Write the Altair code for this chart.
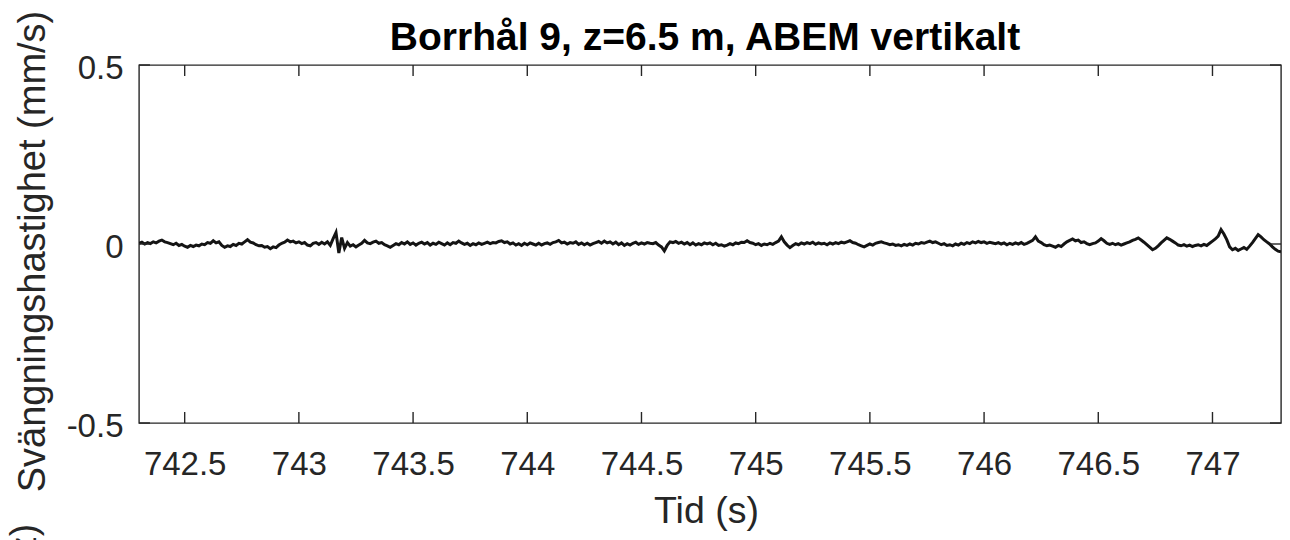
import altair as alt
import pandas as pd

# ---- data -------------------------------------------------------------
t_start = 742.3
t_step = 0.0125
velocity = [
    0.002, 0.005, 0.000, 0.004, 0.001, 0.006, 0.003, 0.008, 0.011, 0.006, 0.004, 0.001, -0.002, 0.002, -0.004, -0.001, -0.006, -0.009, -0.004, -0.007,
    -0.003, -0.005, 0.000, -0.002, 0.004, 0.002, 0.009, 0.003, 0.006, -0.004, -0.009, -0.005, -0.007, -0.001, -0.004, 0.002, 0.000, 0.006, 0.012, 0.005,
    0.003, -0.002, -0.005, -0.004, -0.009, -0.007, -0.013, -0.008, -0.010, -0.003, 0.002, 0.005, 0.011, 0.006, 0.008, 0.003, 0.006, 0.001, 0.004, -0.003,
    -0.005, 0.002, 0.004, -0.001, 0.005, 0.000, 0.006, -0.004, 0.015, 0.032, -0.025, 0.018, -0.012, 0.004, -0.006, -0.002, -0.008, -0.003, 0.002, 0.010,
    0.003, 0.001, 0.005, 0.008, 0.002, 0.004, -0.002, -0.005, -0.009, -0.004, 0.001, -0.002, 0.004, 0.000, 0.006, -0.001, 0.003, -0.003, 0.002, 0.005,
    0.000, 0.004, -0.003, 0.002, -0.001, 0.005, 0.001, -0.003, 0.003, -0.002, 0.004, 0.002, 0.008, 0.003, -0.001, 0.002, -0.004, 0.001, -0.002, 0.003,
    -0.001, 0.002, 0.005, 0.001, 0.004, 0.003, 0.007, 0.009, 0.004, 0.006, 0.000, 0.003, -0.003, 0.001, -0.004, 0.002, -0.002, 0.003, 0.000, -0.003,
    0.002, -0.003, 0.001, 0.003, -0.001, 0.004, 0.006, 0.010, 0.003, 0.005, 0.000, 0.004, 0.002, 0.006, -0.001, 0.003, -0.002, 0.002, -0.003, 0.001,
    0.004, 0.007, 0.002, 0.008, 0.003, 0.006, 0.000, 0.005, -0.002, 0.003, -0.004, 0.001, -0.003, 0.002, 0.005, -0.001, 0.003, 0.000, 0.004, 0.002,
    0.001, 0.004, -0.003, -0.008, -0.019, -0.004, 0.006, 0.004, 0.007, 0.002, 0.005, 0.000, 0.004, -0.002, 0.003, -0.003, 0.001, -0.002, 0.003, 0.000,
    0.003, -0.002, 0.002, -0.004, -0.002, -0.006, -0.003, 0.001, -0.002, 0.003, 0.001, 0.005, 0.004, 0.009, 0.004, 0.002, -0.002, 0.001, -0.004, 0.000,
    -0.002, 0.002, -0.001, 0.004, 0.008, 0.020, 0.006, -0.003, -0.010, -0.004, 0.001, -0.002, 0.003, 0.000, 0.004, 0.001, 0.005, -0.001, 0.003, 0.000,
    0.002, -0.002, 0.003, 0.000, 0.004, 0.001, 0.005, 0.003, 0.006, 0.009, 0.004, 0.002, -0.002, -0.005, -0.008, -0.004, 0.000, -0.003, 0.002, 0.004,
    0.006, 0.003, 0.001, -0.002, 0.000, -0.004, -0.002, -0.005, -0.001, -0.004, 0.000, -0.003, 0.002, 0.000, 0.004, 0.002, 0.005, 0.008, 0.004, 0.006,
    0.002, -0.002, 0.001, -0.004, -0.002, -0.005, 0.000, -0.003, 0.002, -0.001, 0.004, 0.001, 0.006, 0.003, 0.007, 0.004, 0.006, 0.002, 0.005, 0.003,
    0.001, 0.004, 0.000, 0.003, -0.002, 0.002, -0.001, 0.003, 0.000, 0.004, -0.001, 0.002, 0.006, 0.010, 0.020, 0.008, 0.004, -0.002, -0.005, -0.003,
    -0.006, -0.009, -0.004, -0.007, 0.000, 0.006, 0.010, 0.014, 0.009, 0.011, 0.004, 0.006, 0.001, -0.002, 0.001, 0.003, 0.008, 0.015, 0.009, 0.002,
    -0.001, 0.002, -0.002, 0.001, -0.003, 0.000, 0.003, 0.006, 0.010, 0.013, 0.017, 0.011, 0.005, -0.002, -0.009, -0.016, -0.012, -0.005, 0.003, 0.010,
    0.017, 0.013, 0.008, 0.003, -0.003, -0.005, -0.002, -0.006, -0.003, -0.007, -0.004, -0.002, -0.005, -0.001, -0.004, 0.002, 0.008, 0.014, 0.022, 0.040,
    0.028, 0.012, -0.008, -0.016, -0.012, -0.018, -0.014, -0.010, -0.015, -0.006, 0.004, 0.015, 0.026, 0.020, 0.012, 0.006, 0.000, -0.008, -0.015, -0.020,
    -0.022,
]
time = [round(t_start + i * t_step, 4) for i in range(len(velocity))]

x_ticks = [742.5, 743, 743.5, 744, 744.5, 745, 745.5, 746, 746.5, 747]
y_ticks = [-0.5, 0, 0.5]
x_domain = [742.3, 747.3]
y_domain = [-0.5, 0.5]

title_text = "Borrhål 9, z=6.5 m, ABEM vertikalt"
x_title = "Tid (s)"
y_title = "Svängningshastighet (mm/s)"

# ---- style ------------------------------------------------------------
FONT = "Liberation Sans"
AX = "#262626"
W, H = 1142, 358
TICK_Y = 0.0307   # inward tick length in y units (~11 px)
TICK_X = 0.048    # inward tick length in x units (~11 px)

df = pd.DataFrame({"t": time, "v": velocity})

xs = alt.Scale(domain=x_domain, nice=False, zero=False)
ys = alt.Scale(domain=y_domain, nice=False, zero=False)

x_axis = alt.Axis(
    values=x_ticks, labelExpr="'' + datum.value", title=x_title,
    grid=False, domain=False, ticks=False, tickSize=0,
    labelFont=FONT, labelFontSize=33, labelColor=AX, labelPadding=25,
    labelBaseline="top", labelFlush=False,
    titleFont=FONT, titleFontSize=37.5, titleFontWeight="normal", titleColor=AX,
    titleX=567, titleY=99, titleBaseline="alphabetic", titleAlign="center",
)
y_axis = alt.Axis(
    values=y_ticks, labelExpr="'' + datum.value", title=y_title,
    grid=False, domain=False, ticks=False, tickSize=0,
    labelFont=FONT, labelFontSize=33, labelColor=AX, labelPadding=16,
    labelAlign="right", labelBaseline="middle", labelOffset=3, labelFlush=False,
    titleFont=FONT, titleFontSize=38, titleFontWeight="normal", titleColor=AX,
    titleAngle=270, titleX=-95, titleY=186, titleBaseline="alphabetic",
    titleAlign="center",
)

line = alt.Chart(df).mark_line(color="#141414", strokeWidth=3, clip=True).encode(
    x=alt.X("t:Q", scale=xs, axis=x_axis),
    y=alt.Y("v:Q", scale=ys, axis=y_axis),
)

# inward tick marks (MATLAB box style)
bt = pd.DataFrame({"x": x_ticks, "y": [y_domain[0]] * len(x_ticks),
                   "y2": [y_domain[0] + TICK_Y] * len(x_ticks)})
tt = pd.DataFrame({"x": x_ticks, "y": [y_domain[1]] * len(x_ticks),
                   "y2": [y_domain[1] - TICK_Y] * len(x_ticks)})
lt = pd.DataFrame({"y": y_ticks, "x": [x_domain[0]] * len(y_ticks),
                   "x2": [x_domain[0] + TICK_X] * len(y_ticks)})
rt = pd.DataFrame({"y": y_ticks, "x": [x_domain[1]] * len(y_ticks),
                   "x2": [x_domain[1] - TICK_X] * len(y_ticks)})

def vticks(d):
    return alt.Chart(d).mark_rule(color=AX, strokeWidth=1.4).encode(
        x=alt.X("x:Q", scale=xs), y=alt.Y("y:Q", scale=ys), y2="y2:Q")

def hticks(d):
    return alt.Chart(d).mark_rule(color=AX, strokeWidth=1.4).encode(
        y=alt.Y("y:Q", scale=ys), x=alt.X("x:Q", scale=xs), x2="x2:Q")

# chart title (bold, centred over the plot area)
title = alt.Chart(pd.DataFrame({"s": [title_text]})).mark_text(
    font=FONT, fontSize=39, fontWeight="bold", color="#000000",
    align="center", baseline="alphabetic").encode(
    text="s:N", x=alt.value(W / 2 - 5), y=alt.value(-15))

# fragment of the neighbouring panel's label, cut off at the bottom edge
frag = alt.Chart(pd.DataFrame({"s": ["(Hz)"]})).mark_text(
    font=FONT, fontSize=37, color=AX, angle=270, align="right",
    baseline="alphabetic").encode(
    text="s:N", x=alt.value(-103), y=alt.value(459))

chart = alt.layer(line, vticks(bt), vticks(tt), hticks(lt), hticks(rt),
                  title, frag).properties(
    width=W, height=H,
    padding={"left": 131, "top": 57, "right": 1, "bottom": 117},
    autosize=alt.AutoSizeParams(type="none"),
    background="white",
).configure_view(stroke=AX, strokeWidth=1.4)

chart.save("out.html", embed_options={"renderer": "svg", "actions": False})
